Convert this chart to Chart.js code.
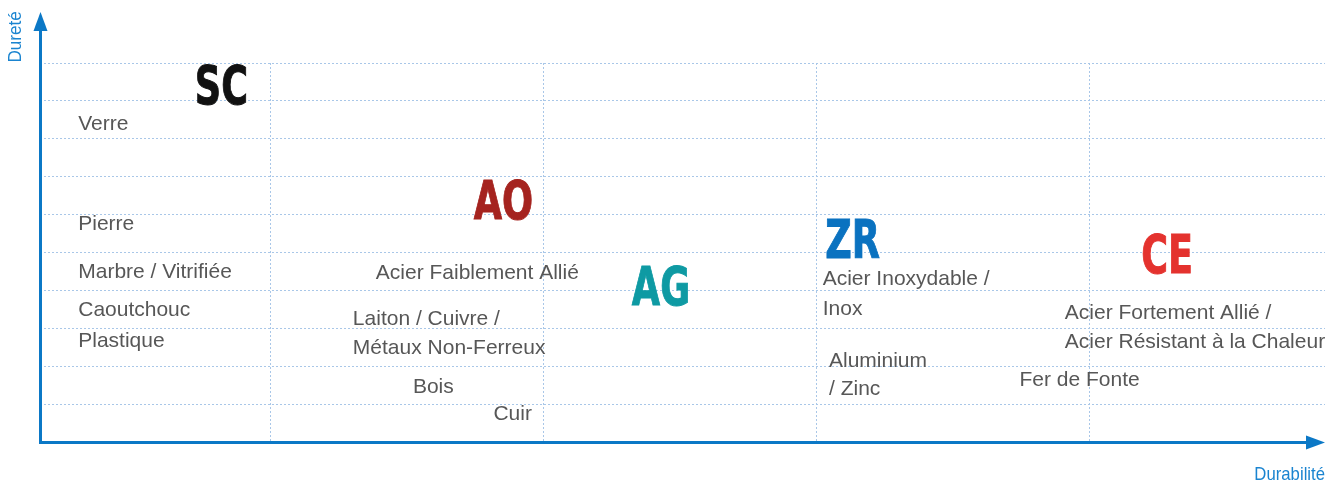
<!DOCTYPE html>
<html>
<head>
<meta charset="utf-8">
<script src="https://cdn.jsdelivr.net/npm/chart.js@4.4.1/dist/chart.umd.min.js"></script>
<style>
    html, body { margin: 0; padding: 0; background: #ffffff; }
</style>
</head>
<body>
<canvas id="chart" width="1344" height="481"></canvas>
<script>
// =====================================
// DATA
// =====================================
const materialNames = [
    "Verre", "Pierre", "Marbre / Vitrifiée", "Caoutchouc", "Plastique",
    "Acier Faiblement Allié", "Laiton / Cuivre /", "Métaux Non-Ferreux", "Bois", "Cuir",
    "Acier Inoxydable /", "Inox", "Aluminium", "/ Zinc", "Fer de Fonte",
    "Acier Fortement Allié /", "Acier Résistant à la Chaleur"
];
const materialX = [
    0.297, 0.297, 0.297, 0.297, 0.297,
    1.387, 1.303, 1.303, 1.523, 1.818,
    3.024, 3.024, 3.047, 3.047, 3.745,
    3.911, 3.911
];
const materialY = [
    8.22, 5.60, 4.32, 3.33, 2.51,
    4.31, 3.09, 2.32, 1.30, 0.58,
    4.15, 3.36, 1.99, 1.24, 1.49,
    3.25, 2.49
];

const codeNames = ["SC", "AO", "AG", "ZR", "CE"];
const codeX = [0.724, 1.746, 2.325, 3.033, 4.191];
const codeY = [8.91, 5.88, 3.61, 4.86, 4.47];
const codeColors = ["#111111", "#a5231f", "#0e9aa3", "#0a72c0", "#e4322e"];

const xGridTicks = [1, 2, 3, 4];
const yGridTicks = [1, 2, 3, 4, 5, 6, 7, 8, 9, 10];
const X_MIN = 0.157, X_MAX = 4.864;
const Y_MIN = 0, Y_MAX = 10;

const xTitle = "Durabilité";
const yTitle = "Dureté";

// =====================================
// STYLE
// =====================================
const AXIS_BLUE = "#0b78c6";
const TITLE_BLUE = "#1a84d0";
const GRID_BLUE = "#a9c7e8";
const LABEL_GREY = "#575757";

// =====================================
// PLUGINS
// =====================================
const textLabels = {
    id: "textLabels",
    afterDatasetsDraw(chart) {
        const ctx = chart.ctx;
        chart.data.datasets.forEach((ds, i) => {
            const meta = chart.getDatasetMeta(i);
            meta.data.forEach((pt, j) => {
                const color = Array.isArray(ds.textColor) ? ds.textColor[j] : ds.textColor;
                ctx.save();
                ctx.translate(pt.x, pt.y);
                ctx.scale(ds.textScale, 1);
                ctx.font = ds.textFont;
                ctx.fillStyle = color;
                ctx.textAlign = "left";
                ctx.textBaseline = "alphabetic";
                if (ds.textStroke) {
                    // a bit heavier, like the condensed black codes
                    ctx.strokeStyle = color;
                    ctx.lineWidth = ds.textStroke;
                    ctx.strokeText(ds.texts[j], 0, 0);
                }
                ctx.fillText(ds.texts[j], 0, 0);
                ctx.restore();
            });
        });
    }
};

const arrowAxes = {
    id: "arrowAxes",
    afterDraw(chart) {
        const ctx = chart.ctx;
        const a = chart.chartArea;
        const x0 = a.left + 0.5;
        const y0 = a.bottom + 0.5;

        ctx.save();
        ctx.strokeStyle = AXIS_BLUE;
        ctx.fillStyle = AXIS_BLUE;
        ctx.lineWidth = 3;

        // y axis
        ctx.beginPath();
        ctx.moveTo(x0, y0 + 1.5);
        ctx.lineTo(x0, a.top - 35);
        ctx.stroke();
        ctx.beginPath();
        ctx.moveTo(x0, a.top - 51);
        ctx.lineTo(x0 - 7, a.top - 32);
        ctx.lineTo(x0 + 7, a.top - 32);
        ctx.closePath();
        ctx.fill();

        // x axis
        ctx.beginPath();
        ctx.moveTo(x0 - 1.5, y0);
        ctx.lineTo(a.right - 16, y0);
        ctx.stroke();
        ctx.beginPath();
        ctx.moveTo(a.right, y0);
        ctx.lineTo(a.right - 19, y0 - 7);
        ctx.lineTo(a.right - 19, y0 + 7);
        ctx.closePath();
        ctx.fill();

        // axis titles
        ctx.fillStyle = TITLE_BLUE;
        ctx.font = '19px "Liberation Sans"';
        ctx.textBaseline = "alphabetic";

        ctx.save();
        ctx.translate(a.right, a.bottom + 38);
        ctx.scale(0.88, 1);
        ctx.textAlign = "right";
        ctx.fillText(xTitle, 0, 0);
        ctx.restore();

        ctx.save();
        ctx.translate(a.left - 19.5, a.top - 0.5);
        ctx.rotate(-Math.PI / 2);
        ctx.scale(0.9, 1);
        ctx.textAlign = "left";
        ctx.fillText(yTitle, 0, 0);
        ctx.restore();

        ctx.restore();
    }
};

// =====================================
// CHART
// =====================================
function toPoints(xs, ys) {
    return xs.map((x, i) => ({ x: x, y: ys[i] }));
}

const ctx = document.getElementById("chart").getContext("2d");

const chart = new Chart(ctx, {
    type: "scatter",
    data: {
        datasets: [
            {
                label: "Matériaux",
                data: toPoints(materialX, materialY),
                texts: materialNames,
                textFont: '21px "Liberation Sans"',
                textColor: LABEL_GREY,
                textScale: 1,
                textStroke: 0,
                pointRadius: 0,
                pointHoverRadius: 0
            },
            {
                label: "Codes",
                data: toPoints(codeX, codeY),
                texts: codeNames,
                textFont: 'bold 53px "DejaVu Sans"',
                textColor: codeColors,
                textScale: 0.69,
                textStroke: 1,
                pointRadius: 0,
                pointHoverRadius: 0
            }
        ]
    },
    options: {
        responsive: false,
        animation: false,
        layout: {
            padding: { top: 63, left: 40, right: 19, bottom: 39 }
        },
        plugins: {
            legend: { display: false },
            tooltip: { enabled: false }
        },
        scales: {
            x: {
                type: "linear",
                min: X_MIN,
                max: X_MAX,
                afterBuildTicks: s => { s.ticks = xGridTicks.map(v => ({ value: v })); },
                ticks: { display: false },
                grid: { color: GRID_BLUE, lineWidth: 1, drawTicks: false },
                border: { display: false, dash: [2, 2] }
            },
            y: {
                type: "linear",
                min: Y_MIN,
                max: Y_MAX,
                afterBuildTicks: s => { s.ticks = yGridTicks.map(v => ({ value: v })); },
                ticks: { display: false },
                grid: { color: GRID_BLUE, lineWidth: 1, drawTicks: false },
                border: { display: false, dash: [2, 2] }
            }
        }
    },
    plugins: [textLabels, arrowAxes]
});
</script>
</body>
</html>
